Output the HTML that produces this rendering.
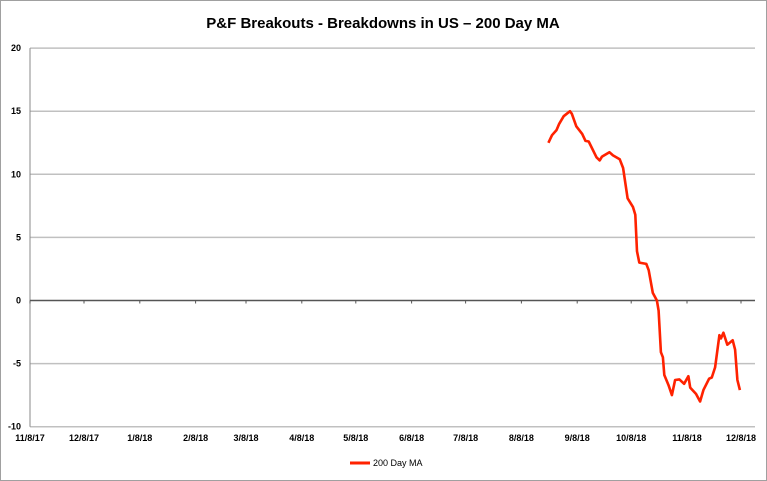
<!DOCTYPE html>
<html><head><meta charset="utf-8"><style>
body{margin:0;background:#fff;font-family:"Liberation Sans",sans-serif}
svg{display:block}
text{font-family:"Liberation Sans",sans-serif}
</style></head><body>
<svg id="chart" width="767" height="481">
<rect x="0.5" y="0.5" width="766" height="480" fill="#fff" stroke="#a0a0a0"/>
<text x="383" y="28" text-anchor="middle" font-size="15" font-weight="bold" fill="#000">P&amp;F Breakouts - Breakdowns in US – 200 Day MA</text>
<g id="grid"></g><g id="axes"></g><g id="series"></g>
<g>
<line x1="350" y1="463" x2="370" y2="463" stroke="#ff2200" stroke-width="3"/>
<text x="373" y="466" font-size="9" fill="#000">200 Day MA</text>
</g>
</svg>
<script>
const yTicks=[20,15,10,5,0,-5,-10];
const xLabels=["11/8/17","12/8/17","1/8/18","2/8/18","3/8/18","4/8/18","5/8/18","6/8/18","7/8/18","8/8/18","9/8/18","10/8/18","11/8/18","12/8/18"];
const days=[288,290,292.5,294,296.5,300,301,303.5,306.8,308.6,310.4,314.7,316.5,317.8,321.9,323.9,327.6,329.5,332,335,336.3,337.2,338.5,342.4,343.7,346,348.3,349.2,350.5,351.6,352.4,354.7,356.6,358.4,360.8,363.4,365.8,366.8,370,372.3,374.1,377.3,378.8,380.6,383,383.9,385.2,387.4,390.4,391.7,393,394.4];
const values=[12.5,13.1,13.5,14.0,14.6,15.0,14.8,13.8,13.2,12.65,12.6,11.35,11.1,11.4,11.75,11.5,11.2,10.5,8.1,7.4,6.8,3.9,3.0,2.9,2.4,0.6,0,-0.8,-4.1,-4.5,-5.9,-6.7,-7.5,-6.3,-6.25,-6.6,-6.0,-6.9,-7.4,-8.0,-7.1,-6.2,-6.1,-5.3,-2.75,-3.0,-2.55,-3.5,-3.15,-3.9,-6.3,-7.1];
const NS="http://www.w3.org/2000/svg";
const X0=30,PXD=1.8,Y0=300.5,PXU=12.62,XR=755;
const xs=d=>X0+d*PXD, ys=v=>Y0-v*PXU;
function mk(t,a,p){const e=document.createElementNS(NS,t);for(const k in a)e.setAttribute(k,a[k]);p.appendChild(e);return e;}
const grid=document.getElementById('grid'),axes=document.getElementById('axes'),ser=document.getElementById('series');
yTicks.forEach(v=>{
 if(v!==0){const l=mk('line',{x1:X0,x2:XR,y1:ys(v),y2:ys(v),stroke:'#c0c0c0','stroke-width':1.5},grid);
 
 }
 const t=mk('text',{x:21,y:ys(v)+3,'text-anchor':'end','font-size':9,'font-weight':'bold',fill:'#000'},axes);t.textContent=v;
 
 
});
const ya=mk('line',{x1:X0,x2:X0,y1:ys(20),y2:ys(-10),stroke:'#888','stroke-width':1},axes);


const xa=mk('line',{x1:X0,x2:XR,y1:Y0,y2:Y0,stroke:'#555','stroke-width':1.5},axes);


const base=new Date(2017,10,8);
xLabels.forEach(s=>{
 const [m,d,y]=s.split('/').map(Number);const dt=new Date(2000+y,m-1,d);
 const dd=Math.round((dt-base)/86400000);const x=xs(dd);
 const tk=mk('line',{x1:x,x2:x,y1:Y0,y2:Y0+3,stroke:'#555'},axes);
 
 
 const t=mk('text',{x:x,y:441,'text-anchor':'middle','font-size':9,'font-weight':'bold',fill:'#000'},axes);t.textContent=s;
 
 
});
const pts=days.map((d,i)=>xs(d).toFixed(1)+','+ys(values[i]).toFixed(1)).join(' ');
const pl=mk('polyline',{points:pts,fill:'none',stroke:'#ff2200','stroke-width':2.6,'stroke-linejoin':'round'},ser);


</script>
</body></html>
